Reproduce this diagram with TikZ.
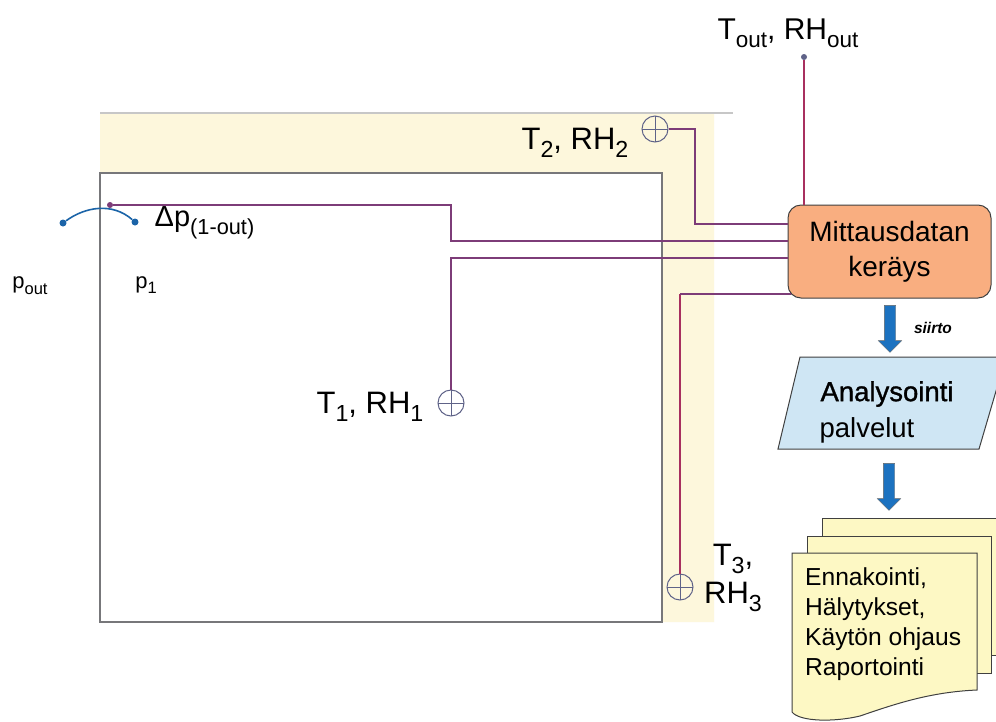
\documentclass[tikz,border=0pt]{standalone}
\usepackage{fontspec}
\setmainfont{Liberation Sans}
\newfontfamily\fakebold[FakeBold=1.2]{Liberation Sans}
\usetikzlibrary{shapes.geometric,shapes.arrows}
\definecolor{bandc}{HTML}{FDF7DC}
\definecolor{wallc}{HTML}{77777A}
\definecolor{wirec}{HTML}{7D3C78}
\definecolor{redwirec}{HTML}{A8305F}
\definecolor{sensorc}{HTML}{5F6388}
\definecolor{boxc}{HTML}{F9AE80}
\definecolor{skyc}{HTML}{CFE6F4}
\definecolor{paperc}{HTML}{FDF8C4}
\definecolor{arrowc}{HTML}{1C72C0}
\definecolor{tubec}{HTML}{1B64A8}
\newcommand{\lowtxt}[1]{\raisebox{-0.26em}{\scalebox{0.75}{#1}}}
\tikzset{
  sensor/.style={circle, draw=sensorc, line width=1pt, minimum size=26pt, inner sep=0pt,
    path picture={\draw[sensorc, line width=0.7pt] (path picture bounding box.north) -- (path picture bounding box.south) (path picture bounding box.west) -- (path picture bounding box.east);}},
  wire/.style={draw=wirec, line width=1.3pt},
  redwire/.style={draw=redwirec, line width=1.4pt},
  tapdot/.style={circle, fill=tubec, inner sep=0pt, minimum size=7pt},
  bigtxt/.style={font=\fontsize{31}{38}\selectfont, align=center, inner sep=0pt},
  smalltxt/.style={font=\fontsize{22}{24}\selectfont, inner sep=0pt},
  flow/.style={single arrow, fill=arrowc, draw=black!60, line width=0.4pt, shape border rotate=270, single arrow head extend=6pt, inner sep=5.5pt},
  sheet/.style={fill=paperc, draw=black!75, line width=1pt}
}
\begin{document}
\begin{tikzpicture}[x=1pt,y=-1pt]
\clip (0,0) rectangle (996,721);
\fill[white] (0,0) rectangle (996,721);
\fill[bandc] (100,113) -- (714,113) -- (714,622) -- (662,622) -- (662,173) -- (100,173) -- cycle;
\draw[black!22, line width=1.5pt] (100,113) -- (733,113);
\draw[wallc, line width=2.6pt] (100,173) rectangle (662,622);

\node[draw=black!75, fill=boxc, rounded corners=13pt, line width=1pt, minimum width=203pt, minimum height=93pt, inner sep=0pt, align=center, font=\fontsize{28}{35}\selectfont] (collect) at (889.5,251.5) {Mittausdatan\\keräys};

\foreach \name/\px/\py in {sensorb/655/129,sensora/451/403,sensorcc/680/587} {
  \node[sensor] (\name) at (\px,\py) {};
}
\node[circle, fill=sensorc, inner sep=0pt, minimum size=6pt] (outer) at (804,57) {};
\node[circle, fill=wirec, inner sep=0pt, minimum size=6pt] (tapin) at (110,205) {};
\node[tapdot] (tapout) at (63,223) {};
\node[tapdot] (tapone) at (135,222) {};

\coordinate (inb) at (788,224);
\coordinate (inp) at (788,241);
\coordinate (ina) at (788,258);
\coordinate (inc) at (791,294);
\coordinate (intop) at (804,205);

\draw[wire] (sensorb.east) -- (695,129) -- (695,224) -- (inb);
\draw[wire] (tapin) -- (451,205) -- (451,241) -- (inp);
\draw[wire] (sensora.north) -- (451,258) -- (ina);
\draw[redwire] (sensorcc.north) -- (680,294);
\draw[wire] (680,294) -- (inc);
\draw[redwire] (outer) -- (intop);
\draw[tubec, line width=1.6pt] (tapout) .. controls (85,207) and (112,202) .. (tapone);

\node[bigtxt, font=\fontsize{30}{33}\selectfont] (toutlab) at (788,33) {T\lowtxt{out}, RH\lowtxt{out}};
\node[bigtxt] (tblab) at (575,143) {T\lowtxt{2}, RH\lowtxt{2}};
\node[bigtxt] (talab) at (370,407) {T\lowtxt{1}, RH\lowtxt{1}};
\node[bigtxt] (tclab) at (733,578) {T\lowtxt{3},\\RH\lowtxt{3}};
\node[font=\fontsize{29}{30}\selectfont, inner sep=0pt] (dplab) at (204.5,223) {Δp\lowtxt{(1-out)}};
\node[smalltxt] (poutlab) at (30,286) {p\lowtxt{out}};
\node[smalltxt] (ponelab) at (146,285) {p\lowtxt{1}};

\node[flow, minimum height=47pt] (flowa) at (890,326) {};
\node[font=\bfseries\itshape\fontsize{15.5}{18}\selectfont, inner sep=0pt] (siirto) at (933,328) {siirto};

\draw[draw=black!75, fill=skyc, line width=1pt] (800,357) -- (1006,357) -- (979,449) -- (778,449) -- cycle;
\node[font=\fakebold\fontsize{27.5}{30}\selectfont, inner sep=0pt] (analysis) at (887,394) {Analysointi};
\node[font=\fontsize{27.5}{30}\selectfont, inner sep=0pt] (palvelut) at (867,430) {palvelut};

\node[flow, minimum height=47pt] (flowb) at (889,484) {};

\draw[sheet] (822,518) rectangle (1010,655);
\draw[sheet] (807,536) rectangle (991,673);
\draw[sheet] (792,553) -- (977,553) -- (977,690) .. controls (930,692) and (895,704) .. (860,716) .. controls (835,722) and (800,722) .. (792,712) -- cycle;
\node[align=left, anchor=north west, inner sep=0pt, font=\fontsize{24.6}{30}\selectfont] (papertxt) at (805,567) {Ennakointi,\\Hälytykset,\\Käytön ohjaus\\Raportointi};
\end{tikzpicture}
\end{document}
